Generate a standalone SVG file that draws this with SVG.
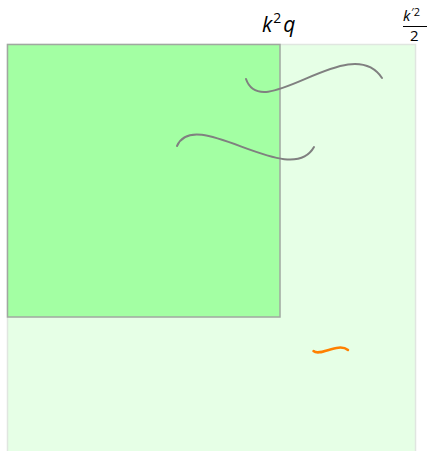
<svg xmlns="http://www.w3.org/2000/svg" width="428" height="451" viewBox="0 0 428 451">
<style>
.lbl{font-family:"Open Sans","DejaVu Sans",sans-serif;fill:#000}
.it{font-style:italic}
.wave{fill:none;stroke:#808080;stroke-width:2;stroke-linecap:round}
</style>
<rect width="428" height="451" fill="#ffffff"/>
<g id="region-outer">
<rect x="7.5" y="44.5" width="408" height="420" fill="#e6ffe6" stroke="#e0e6e0" stroke-width="1.5"/>
</g>
<g id="region-inner">
<rect x="7.5" y="44.5" width="272.5" height="272.5" fill="#a3ffa3" stroke="#a0a8a0" stroke-width="1.5"/>
</g>
<g id="connectors">
<path class="wave" d="M246,79 C262,125 350,30 382,78"/>
<path class="wave" d="M177,146 C195,105 290,190 314,147"/>
<path d="M313.5,351 C320,357 338,342 348,350" fill="none" stroke="#ff8000" stroke-width="2.5" stroke-linecap="round"/>
</g>
<g id="label-k2q">
<text class="lbl" x="262" y="32" font-size="21"><tspan class="it">k</tspan><tspan font-size="14" dx="1" dy="-9">2</tspan><tspan class="it" dx="2" dy="9">q</tspan></text>
</g>
<g id="label-frac">
<text class="lbl" x="403" y="21" font-size="15"><tspan class="it">k</tspan><tspan font-size="11" dx="1" dy="-5">′2</tspan></text>
<line x1="403" y1="26.5" x2="427" y2="26.5" stroke="#000" stroke-width="1"/>
<text class="lbl" x="410" y="41" font-size="15">2</text>
</g>
</svg>
